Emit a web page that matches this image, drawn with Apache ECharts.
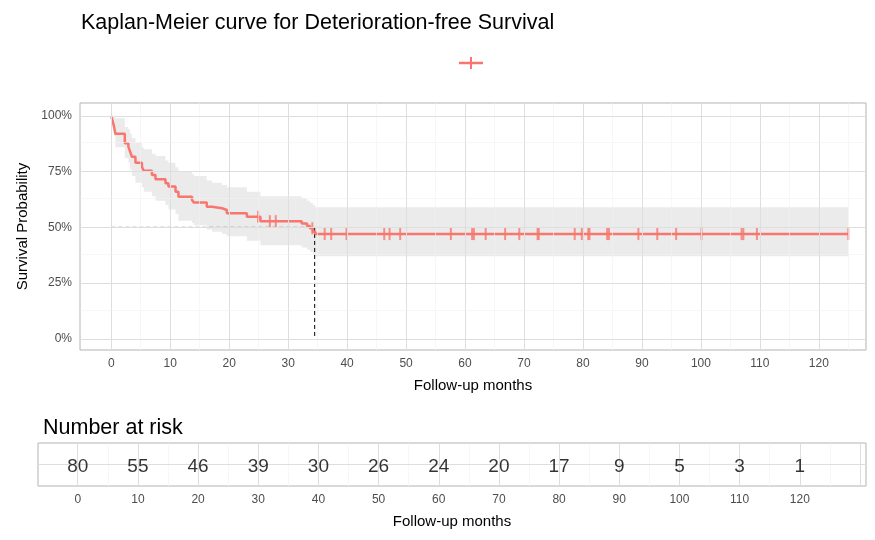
<!DOCTYPE html>
<html>
<head>
<meta charset="utf-8">
<script src="https://cdn.jsdelivr.net/npm/echarts@6/dist/echarts.min.js"></script>
<style>html,body{margin:0;padding:0;background:#fff}#main{width:875px;height:540px}</style>
</head>
<body>
<div id="main"></div>
<script>
// KM step curve (months, survival) with 95% band
var curveTime  = [0,0.2,0.45,0.7,2.3,2.9,3.2,3.5,4.1,5.2,5.5,6.9,7.5,9.2,9.7,10.9,11.4,13.7,14,16.2,17.1,18.8,19.6,23,25.3,32.3,33.2,33.7,34.2,34.6,125];
var curveSurv  = [1,0.98,0.955,0.92,0.877,0.862,0.84,0.817,0.79,0.772,0.754,0.735,0.716,0.698,0.683,0.66,0.638,0.623,0.612,0.593,0.586,0.578,0.563,0.548,0.528,0.518,0.506,0.496,0.481,0.47,0.47];
var curveLower = [1,0.95,0.91,0.86,0.81,0.79,0.76,0.73,0.70,0.68,0.66,0.64,0.62,0.60,0.58,0.56,0.53,0.52,0.51,0.49,0.48,0.47,0.46,0.44,0.42,0.41,0.40,0.39,0.38,0.37,0.37];
var curveUpper = [1,1,1,0.99,0.95,0.94,0.92,0.90,0.88,0.86,0.85,0.83,0.82,0.80,0.79,0.77,0.75,0.74,0.73,0.71,0.70,0.69,0.68,0.66,0.64,0.63,0.62,0.61,0.60,0.59,0.59];
var censorTimes = [24.9,26.9,27.9,34.1,36.2,37.3,39.9,46.3,47.2,49,57.6,61.2,61.5,63.5,66.8,69.2,72.3,72.5,78.6,79.8,80.9,81.1,84.1,84.4,89.4,92.6,95.8,100.1,106.9,107.2,109.5,125];
var medianTime = 34.5;
var riskTimes = [0,10,20,30,40,50,60,70,80,90,100,110,120];
var riskCounts = [80,55,46,39,30,26,24,20,17,9,5,3,1];
var xTicks = [0,10,20,30,40,50,60,70,80,90,100,110,120];
var yTicks = [0,0.25,0.5,0.75,1];

function survAt(t) {
  var s = 1;
  for (var i = 0; i < curveTime.length; i++) if (curveTime[i] <= t) s = curveSurv[i];
  return s;
}

var RED = "#F8766D";
var surv = curveTime.map((t, i) => [t, curveSurv[i]]);
var band = curveTime.map((t, i) => [t, curveLower[i], curveUpper[i]]);
var censor = censorTimes.map(t => [t, survAt(t)]);

// grid lines (major + minor) drawn as markLines
function gl(key, v, minor) {
  var o = { lineStyle: { type: "solid", color: minor ? "#F2F2F2" : "#DEDEDE", width: minor ? 0.6 : 1 } };
  o[key] = v;
  return o;
}
var gridLines = [];
for (var v = 0; v <= 125; v += 5) gridLines.push(gl("xAxis", v, v % 10 !== 0));
for (var w = 0; w <= 8; w++) gridLines.push(gl("yAxis", w / 8, w % 2 !== 0));
var riskGrid = [];
for (var r = 0; r <= 130; r += 5) riskGrid.push(gl("xAxis", r, r % 10 !== 0));
riskGrid.push(gl("yAxis", 0, false));

var axisLbl = { color: "#4D4D4D", fontSize: 12, fontFamily: "Liberation Sans" };
var axisTk = { show: true, length: 4, lineStyle: { color: "#333" } };

var chart = echarts.init(document.getElementById("main"));
var option = {
  animation: false,
  textStyle: { fontFamily: "Liberation Sans" },
  title: [
    { text: "Kaplan-Meier curve for Deterioration-free Survival", left: 76, top: 7, textStyle: { fontSize: 21.5, fontWeight: "normal", color: "#000" } },
    { text: "Number at risk", left: 38, top: 412, textStyle: { fontSize: 21.5, fontWeight: "normal", color: "#000" } }
  ],
  graphic: [
    { type: "line", shape: { x1: 459, y1: 63, x2: 483, y2: 63 }, style: { stroke: RED, lineWidth: 2.5 } },
    { type: "line", shape: { x1: 471, y1: 57, x2: 471, y2: 69 }, style: { stroke: RED, lineWidth: 2 } }
  ],
  grid: [
    { left: 80, right: 9, top: 103, height: 247, borderColor: "#B3B3B3", borderWidth: 1, show: true },
    { left: 38, right: 9, top: 443, height: 43, borderColor: "#B3B3B3", borderWidth: 1, show: true }
  ],
  xAxis: [
    { type: "value", gridIndex: 0, min: -5.3, max: 128, name: "Follow-up months", nameLocation: "middle", nameGap: 28,
      nameTextStyle: { fontSize: 15, color: "#000" }, splitLine: { show: false }, axisLine: { show: false },
      axisTick: Object.assign({ customValues: xTicks }, axisTk), axisLabel: Object.assign({ customValues: xTicks }, axisLbl) },
    { type: "value", gridIndex: 1, min: -6.6, max: 131, name: "Follow-up months", nameLocation: "middle", nameGap: 28,
      nameTextStyle: { fontSize: 15, color: "#000" }, splitLine: { show: false }, axisLine: { show: false },
      axisTick: Object.assign({ customValues: xTicks }, axisTk), axisLabel: Object.assign({ customValues: xTicks }, axisLbl) }
  ],
  yAxis: [
    { type: "value", gridIndex: 0, min: -0.05, max: 1.058, name: "Survival Probability", nameLocation: "middle", nameGap: 50,
      nameTextStyle: { fontSize: 15, color: "#000" }, splitLine: { show: false }, axisLine: { show: false },
      axisTick: Object.assign({ customValues: yTicks }, axisTk),
      axisLabel: Object.assign({ customValues: yTicks, formatter: v => Math.round(v * 100) + "%" }, axisLbl) },
    { type: "value", gridIndex: 1, min: -1, max: 1, splitLine: { show: false }, axisLine: { show: false },
      axisTick: Object.assign({ customValues: [0] }, axisTk), axisLabel: { show: false } }
  ],
  series: [
    { type: "line", xAxisIndex: 0, yAxisIndex: 0, data: [], silent: true, z: 0,
      markLine: { silent: true, symbol: "none", label: { show: false }, data: gridLines } },
    { type: "line", xAxisIndex: 1, yAxisIndex: 1, data: [], silent: true, z: 0,
      markLine: { silent: true, symbol: "none", label: { show: false }, data: riskGrid } },
    { type: "custom", data: band, z: 1, silent: true,
      renderItem: function (params, api) {
        if (params.dataIndex !== 0) return;
        var up = [], lo = [];
        for (var i = 0; i < band.length; i++) {
          var t0 = band[i][0], t1 = i + 1 < band.length ? band[i + 1][0] : band[i][0];
          up.push(api.coord([t0, band[i][2]]), api.coord([t1, band[i][2]]));
          lo.push(api.coord([t0, band[i][1]]), api.coord([t1, band[i][1]]));
        }
        return { type: "polygon", shape: { points: up.concat(lo.reverse()) }, style: { fill: "#EBEBEB" } };
      } },
    { type: "line", data: [[0, 0.5], [medianTime, 0.5], [medianTime, 0]], symbol: "none", z: 2,
      lineStyle: { color: "#000", width: 1, type: [4, 3] } },
    { type: "line", data: surv, step: "end", symbol: "none", z: 3, lineStyle: { color: RED, width: 2.5 } },
    { type: "scatter", data: censor, symbol: "rect", symbolSize: [2, 12], itemStyle: { color: RED }, z: 4 },
    { type: "scatter", xAxisIndex: 1, yAxisIndex: 1, symbolSize: 0, z: 5,
      data: riskTimes.map((t, i) => [t, 0, riskCounts[i]]),
      label: { show: true, position: "inside", offset: [0, 2], formatter: p => p.value[2], fontSize: 19, color: "#000" } }
  ]
};
chart.setOption(option);
</script>
</body>
</html>
